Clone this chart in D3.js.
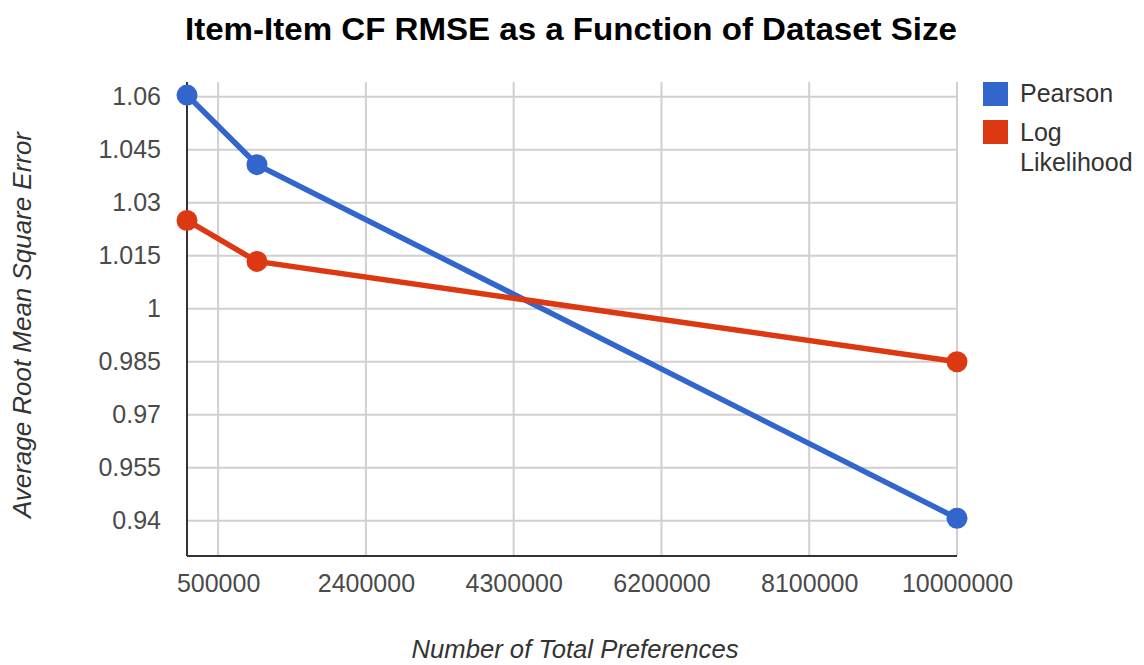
<!DOCTYPE html>
<html>
<head>
<meta charset="utf-8">
<script src="https://cdn.jsdelivr.net/npm/d3@7"></script>
<style>
  body { margin: 0; background: #fff; }
  text { font-family: "Liberation Sans", Arial, sans-serif; }
</style>
</head>
<body>
<svg width="1144" height="665"></svg>
<script>
// data
const sizes = [100000, 1000000, 10000000];
const pearson = [1.0605, 1.0408, 0.9407];
const logLikelihood = [1.0250, 1.0134, 0.9850];
const seriesNames = ["Pearson", "Log Likelihood"];
const seriesColors = ["#3366cc", "#dc3912"];
const xTicks = [500000, 2400000, 4300000, 6200000, 8100000, 10000000];
const yTicks = [0.94, 0.955, 0.97, 0.985, 1, 1.015, 1.03, 1.045, 1.06];

const svg = d3.select("svg");
const margin = { top: 82, right: 187, bottom: 109, left: 187 };
const width = 1144 - margin.left - margin.right;
const height = 665 - margin.top - margin.bottom;

const x = d3.scaleLinear().domain([100000, 10000000]).range([0, width]);
const y = d3.scaleLinear().domain([0.93, 1.0642]).range([height, 0]);

const g = svg.append("g").attr("transform", `translate(${margin.left},${margin.top})`);

// grid
g.append("g").selectAll("line").data(yTicks).join("line")
    .attr("x1", 0).attr("x2", width)
    .attr("y1", d => y(d)).attr("y2", d => y(d))
    .attr("stroke", "#d0d0d0").attr("stroke-width", 2);
g.append("g").selectAll("line").data(xTicks).join("line")
    .attr("y1", 0).attr("y2", height)
    .attr("x1", d => x(d)).attr("x2", d => x(d))
    .attr("stroke", "#d0d0d0").attr("stroke-width", 2);

// axes
const yAxis = d3.axisLeft(y).tickValues(yTicks).tickSize(0).tickPadding(26).tickFormat(d3.format("~g"));
const xAxis = d3.axisBottom(x).tickValues(xTicks).tickSize(0).tickPadding(18).tickFormat(d3.format("d"));

g.append("g").call(yAxis)
    .call(a => a.select(".domain").remove())
    .selectAll("text").attr("font-size", 25).attr("fill", "#4a4a4a").attr("font-family", "Liberation Sans, Arial, sans-serif");
g.append("g").attr("transform", `translate(0,${height})`).call(xAxis)
    .call(a => a.select(".domain").remove())
    .selectAll("text").attr("font-size", 25).attr("fill", "#4a4a4a").attr("font-family", "Liberation Sans, Arial, sans-serif");

g.append("line").attr("x1", 0).attr("x2", 0).attr("y1", 0).attr("y2", height)
    .attr("stroke", "#333").attr("stroke-width", 2);
g.append("line").attr("x1", 0).attr("x2", width).attr("y1", height).attr("y2", height)
    .attr("stroke", "#333").attr("stroke-width", 2);

// lines + points
const line = d3.line().x(d => x(d[0])).y(d => y(d[1]));
[pearson, logLikelihood].forEach((vals, i) => {
    const pts = sizes.map((s, j) => [s, vals[j]]);
    g.append("path").datum(pts)
        .attr("d", line).attr("fill", "none")
        .attr("stroke", seriesColors[i]).attr("stroke-width", 5.5);
    g.append("g").selectAll("circle").data(pts).join("circle")
        .attr("cx", d => x(d[0])).attr("cy", d => y(d[1])).attr("r", 10.5)
        .attr("fill", seriesColors[i]);
});

// title
svg.append("text").attr("x", 571).attr("y", 40).attr("text-anchor", "middle")
    .attr("font-size", 32).attr("font-weight", "bold").attr("fill", "#000")
    .attr("textLength", 772).attr("lengthAdjust", "spacingAndGlyphs")
    .text("Item-Item CF RMSE as a Function of Dataset Size");

// axis titles
svg.append("text").attr("x", 575).attr("y", 658).attr("text-anchor", "middle")
    .attr("font-size", 25).attr("font-style", "italic").attr("fill", "#333")
    .attr("textLength", 327).attr("lengthAdjust", "spacingAndGlyphs")
    .text("Number of Total Preferences");
svg.append("text").attr("transform", "translate(31,325) rotate(-90)").attr("text-anchor", "middle")
    .attr("font-size", 25).attr("font-style", "italic").attr("fill", "#333")
    .attr("textLength", 386).attr("lengthAdjust", "spacingAndGlyphs")
    .text("Average Root Mean Square Error");

// legend
const legend = svg.append("g").attr("transform", "translate(983,82)");
legend.append("rect").attr("x", 0).attr("y", 0).attr("width", 25).attr("height", 24).attr("fill", seriesColors[0]);
legend.append("text").attr("x", 37).attr("y", 20).attr("font-size", 25).attr("fill", "#333").text("Pearson");
legend.append("rect").attr("x", 0).attr("y", 38).attr("width", 25).attr("height", 24).attr("fill", seriesColors[1]);
legend.append("text").attr("x", 37).attr("y", 59).attr("font-size", 25).attr("fill", "#333").text("Log");
legend.append("text").attr("x", 37).attr("y", 89).attr("font-size", 25).attr("fill", "#333").text("Likelihood");
</script>
</body>
</html>
